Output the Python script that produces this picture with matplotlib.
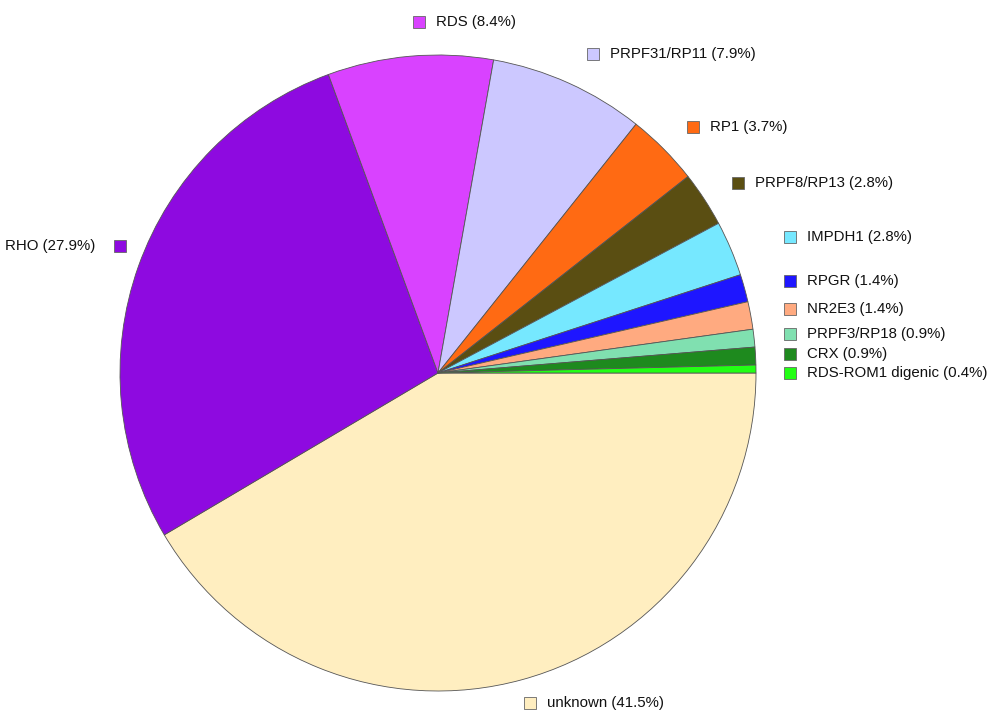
import matplotlib
matplotlib.use('Agg')
import matplotlib.pyplot as plt
from matplotlib.patches import Rectangle

plt.rcParams['font.family'] = ['Liberation Sans', 'DejaVu Sans']

genes = ["unknown", "RHO", "RDS", "PRPF31/RP11", "RP1", "PRPF8/RP13",
         "IMPDH1", "RPGR", "NR2E3", "PRPF3/RP18", "CRX", "RDS-ROM1 digenic"]
percent = [41.5, 27.9, 8.4, 7.9, 3.7, 2.8, 2.8, 1.4, 1.4, 0.9, 0.9, 0.4]
colors = ["#FFEEC0", "#8E0AE0", "#D942FF", "#CCC8FF", "#FF6A13", "#5A4E12",
          "#76E8FF", "#1E16FF", "#FFAA80", "#80E0B0", "#1E8A1E", "#22FF14"]

# label anchor (square centre) in pixel coords, side of the square
label_pos = [(530, 703, 'L'), (120, 246, 'R'), (419, 22, 'L'), (593, 54, 'L'),
             (693, 127, 'L'), (738, 183, 'L'), (790, 237, 'L'), (790, 281, 'L'),
             (790, 309, 'L'), (790, 334, 'L'), (790, 354, 'L'), (790, 373, 'L')]

W, H = 1000, 727
fig = plt.figure(figsize=(W / 100, H / 100), dpi=100)
ax = fig.add_axes([0, 0, 1, 1])

cx, cy, r = 438, H - 373, 318
ax.pie(percent, colors=colors, startangle=0, counterclock=False,
       center=(cx, cy), radius=r, frame=True,
       wedgeprops=dict(edgecolor='#555555', linewidth=0.6))

sq = 12
for g, p, c, (x, y, side) in zip(genes, percent, colors, label_pos):
    yy = H - y
    ax.add_patch(Rectangle((x - sq / 2, yy - sq / 2), sq, sq, facecolor=c,
                           edgecolor='#666666', linewidth=0.6))
    txt = f"{g} ({p}%)"
    if side == 'L':
        ax.text(x + sq / 2 + 11, yy, txt, ha='left', va='center',
                fontsize=10.8, color='#111111')
    else:
        ax.text(x - sq / 2 - 19, yy, txt, ha='right', va='center',
                fontsize=10.8, color='#111111')

ax.set_xlim(0, W)
ax.set_ylim(0, H)
ax.set_aspect('auto')
ax.axis('off')
fig.savefig('out.png', dpi=100)
